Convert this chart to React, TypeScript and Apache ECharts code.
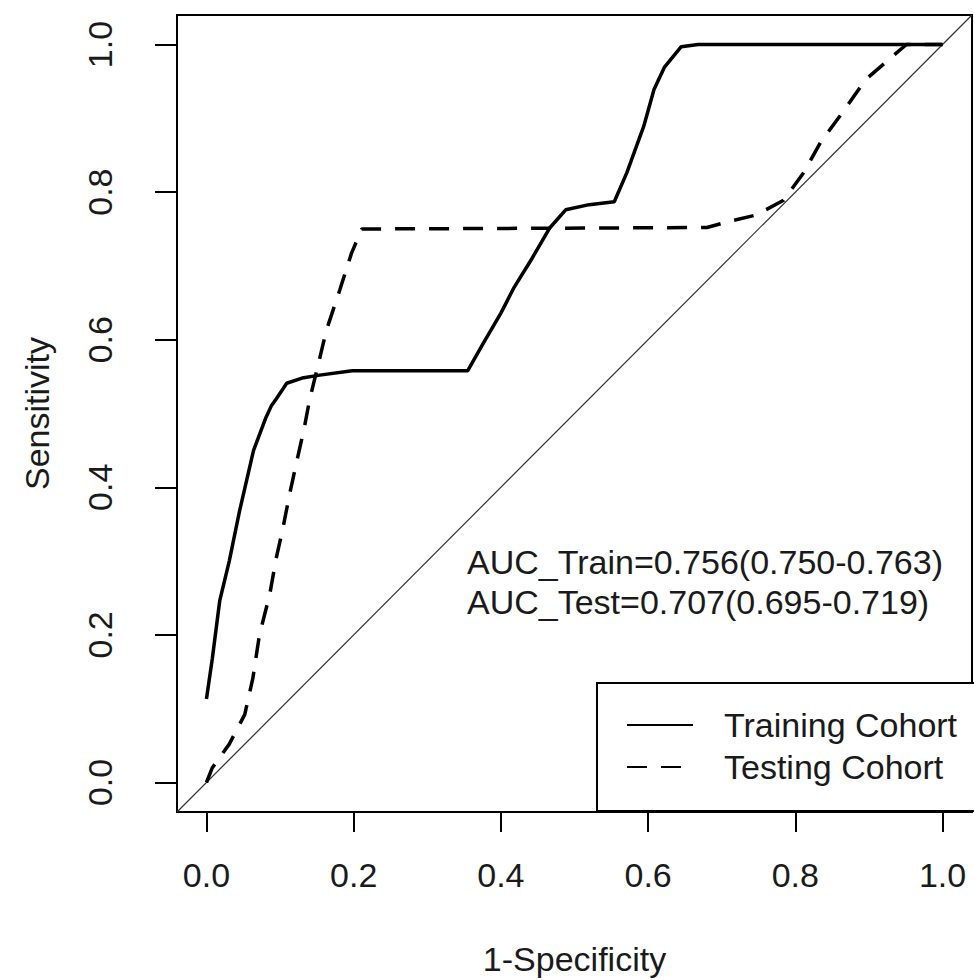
import React, { useEffect, useRef } from "react";
import * as echarts from "echarts";

// ROC data (1-Specificity, Sensitivity)
const trainFpr = [0, 0.008, 0.018, 0.031, 0.045, 0.064, 0.081, 0.088, 0.095, 0.109, 0.13, 0.154, 0.198, 0.355, 0.376, 0.4, 0.418, 0.441, 0.466, 0.488, 0.52, 0.554, 0.571, 0.594, 0.608, 0.622, 0.645, 0.668, 1.0];
const trainTpr = [0.113, 0.168, 0.246, 0.3, 0.368, 0.45, 0.495, 0.51, 0.52, 0.541, 0.548, 0.552, 0.558, 0.558, 0.595, 0.636, 0.671, 0.708, 0.751, 0.776, 0.783, 0.787, 0.826, 0.889, 0.939, 0.969, 0.997, 1.0, 1.0];

const testFpr = [0, 0.008, 0.031, 0.052, 0.063, 0.072, 0.086, 0.095, 0.104, 0.113, 0.122, 0.133, 0.14, 0.151, 0.163, 0.181, 0.197, 0.211, 0.68, 0.709, 0.747, 0.784, 0.811, 0.834, 0.867, 0.895, 0.932, 0.951, 1.0];
const testTpr = [0, 0.02, 0.052, 0.092, 0.141, 0.2, 0.255, 0.305, 0.345, 0.391, 0.432, 0.481, 0.518, 0.563, 0.613, 0.667, 0.717, 0.75, 0.752, 0.76, 0.769, 0.789, 0.826, 0.867, 0.912, 0.952, 0.984, 1.0, 1.0];

const diagX = [-0.04, 1.04];
const diagY = [-0.04, 1.04];

const tickValues = [0, 0.2, 0.4, 0.6, 0.8, 1.0];
const seriesNames = ["Training Cohort", "Testing Cohort"];
const aucLines = ["AUC_Train=0.756(0.750-0.763)", "AUC_Test=0.707(0.695-0.719)"];
const xAxisTitle = "1-Specificity";
const yAxisTitle = "Sensitivity";

const FONT = "Liberation Sans, Arial, sans-serif";
const TXT = "#1a1a1a";

export default function App() {
  const ref = useRef<HTMLDivElement>(null);
  useEffect(() => {
    document.body.style.margin = "0";
    const chart = echarts.init(ref.current!, null, { renderer: "svg" });
    const zip = (a: number[], b: number[]) => a.map((v, i) => [v, b[i]]);
    const option: any = {
      animation: false,
      backgroundColor: "#ffffff",
      textStyle: { fontFamily: FONT },
      grid: {
        left: 177,
        right: 2,
        top: 15,
        bottom: 168,
        show: true,
        borderColor: "#000",
        borderWidth: 2,
        backgroundColor: "transparent",
        outerBoundsMode: "none",
        containLabel: false,
      },
      xAxis: {
        type: "value",
        min: -0.04,
        max: 1.04,
        splitLine: { show: false },
        axisLine: { show: false, onZero: false },
        axisTick: { show: true, inside: false, length: 20, lineStyle: { color: "#000", width: 2 }, customValues: tickValues },
        axisLabel: {
          customValues: tickValues,
          formatter: (v: number) => v.toFixed(1),
          fontSize: 34,
          color: TXT,
          fontFamily: FONT,
          margin: 46,
        },
        name: xAxisTitle,
        nameLocation: "middle",
        nameGap: 130,
        nameTextStyle: { fontSize: 34, color: TXT, fontFamily: FONT },
      },
      yAxis: {
        type: "value",
        min: -0.04,
        max: 1.04,
        splitLine: { show: false },
        axisLine: { show: false, onZero: false },
        axisTick: { show: true, inside: false, length: 22, lineStyle: { color: "#000", width: 2 }, customValues: tickValues },
        axisLabel: {
          customValues: tickValues,
          formatter: (v: number) => v.toFixed(1),
          fontSize: 34,
          color: TXT,
          fontFamily: FONT,
          rotate: 90,
          margin: 60,
        },
        name: yAxisTitle,
        nameLocation: "middle",
        nameGap: 123,
        nameTextStyle: { fontSize: 34, color: TXT, fontFamily: FONT },
      },
      legend: {
        show: true,
        orient: "vertical",
        left: 597,
        top: 683,
        data: seriesNames,
        backgroundColor: "#fff",
        borderColor: "#000",
        borderWidth: 2,
        borderRadius: 0,
        padding: [25, 60, 27, 29],
        itemWidth: 66,
        itemHeight: 20,
        itemGap: 8,
        selectedMode: false,
        itemStyle: { color: "transparent", borderWidth: 0, opacity: 0 },
        textStyle: { fontSize: 34, color: TXT, fontFamily: FONT, lineHeight: 34, padding: [0, 0, 0, 26] },
      },
      series: [
        {
          type: "line",
          name: "diagonal",
          data: zip(diagX, diagY),
          symbol: "none",
          silent: true,
          lineStyle: { color: "#333", width: 1.2 },
          z: 1,
        },
        {
          type: "line",
          name: seriesNames[0],
          data: zip(trainFpr, trainTpr),
          symbol: "none",
          showSymbol: false,
          lineStyle: { color: "#000", width: 3.5, type: "solid" },
          itemStyle: { color: "#000" },
          z: 3,
        },
        {
          type: "line",
          name: seriesNames[1],
          data: zip(testFpr, testTpr),
          symbol: "none",
          showSymbol: false,
          lineStyle: { color: "#000", width: 3.5, type: [20, 14] },
          itemStyle: { color: "#000" },
          z: 2,
        },
      ],
      graphic: aucLines.map((t, i) => ({
        type: "text",
        left: 467,
        top: 545 + i * 40,
        z: 10,
        style: { text: t, fontSize: 34, fill: TXT, fontFamily: FONT },
      })),
    };
    chart.setOption(option);
    return () => chart.dispose();
  }, []);
  return <div ref={ref} style={{ position: "fixed", left: 0, top: 0, width: 974, height: 980 }} />;
}
